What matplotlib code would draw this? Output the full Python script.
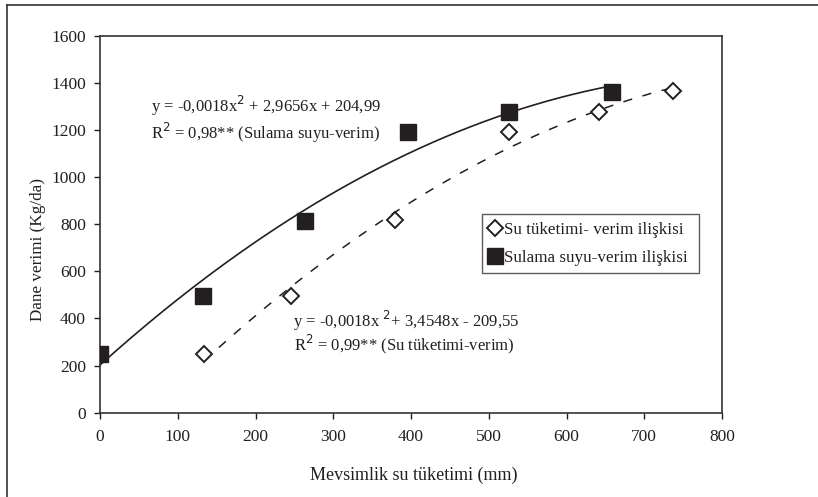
import numpy as np
import matplotlib
matplotlib.use("Agg")
import matplotlib.pyplot as plt
from matplotlib.lines import Line2D

plt.rcParams['font.family'] = ['Liberation Serif', 'DejaVu Serif']

# Sulama suyu - verim (filled squares)
sulama_x = [0, 132, 264, 396, 526, 658]
sulama_y = [248, 495, 815, 1190, 1275, 1363]
# Su tuketimi - verim (open diamonds)
tuketim_x = [134, 246, 380, 526, 642, 737]
tuketim_y = [250, 497, 817, 1192, 1275, 1365]

x_ticks = [0, 100, 200, 300, 400, 500, 600, 700, 800]
y_ticks = [0, 200, 400, 600, 800, 1000, 1200, 1400, 1600]

eq_sulama = "y = -0,0018x$^{2}$ + 2,9656x + 204,99"
r2_sulama = "R$^{2}$ = 0,98** (Sulama suyu-verim)"
eq_tuketim = "y = -0,0018x $^{2}$+ 3,4548x - 209,55"
r2_tuketim = "R$^{2}$ = 0,99** (Su tüketimi-verim)"

ink = '#231f20'

fig = plt.figure(figsize=(8.18, 4.97), dpi=100)
ax = fig.add_axes([100/818, 1 - 412.7/497, 622/818, 377/497])

# outer frame (left and top edges)
fig.add_artist(Line2D([7/818, 7/818], [-0.01, 1 - 5/497], color='#333333', lw=1.2, transform=fig.transFigure))
fig.add_artist(Line2D([7/818, 1.01], [1 - 5/497, 1 - 5/497], color='#333333', lw=1.2, transform=fig.transFigure))

# 2nd order trendlines fitted from the points
c1 = np.polyfit(sulama_x, sulama_y, 2)
xs1 = np.linspace(min(sulama_x), max(sulama_x), 200)
ax.plot(xs1, np.polyval(c1, xs1), color=ink, lw=1.2, zorder=2)

c2 = np.polyfit(tuketim_x, tuketim_y, 2)
xs2 = np.linspace(min(tuketim_x), max(tuketim_x), 200)
ax.plot(xs2, np.polyval(c2, xs2), color=ink, lw=1.1, ls=(0, (6, 7)), zorder=2)

ax.plot(tuketim_x, tuketim_y, 'D', ms=8.5, mfc='white', mec=ink, mew=1.4,
        ls='none', label='Su tüketimi- verim ilişkisi', zorder=3)
ax.plot(sulama_x, sulama_y, 's', ms=11.5, color=ink, ls='none',
        label='Sulama suyu-verim ilişkisi', zorder=3)

ax.set_xlim(0, 800)
ax.set_ylim(0, 1600)
ax.set_xticks(x_ticks)
ax.set_yticks(y_ticks)
ax.tick_params(labelsize=12.5, colors=ink, length=4, width=1)
ax.tick_params(axis='x', pad=8)
ax.tick_params(axis='y', pad=6)
for s in ax.spines.values():
    s.set_color('#333333')
    s.set_linewidth(1.2)

ax.set_xlabel('Mevsimlik su tüketimi (mm)', fontsize=13, color=ink)
ax.set_ylabel('Dane verimi (Kg/da)', fontsize=12.3, color=ink)
ax.xaxis.set_label_coords(0.504, -0.143)
ax.yaxis.set_label_coords(-0.087, 0.433)

ax.text(65, 1300, eq_sulama, fontsize=12, color=ink, va='center')
ax.text(66, 1188, r2_sulama, fontsize=12, color=ink, va='center')
ax.text(248, 390, eq_tuketim, fontsize=12, color=ink, va='center')
ax.text(250, 292, r2_tuketim, fontsize=12, color=ink, va='center')

leg = ax.legend(loc='upper left', bbox_to_anchor=(0.614, 0.377, 0.349, 0.150),
                mode='expand', fontsize=12.3, frameon=True, fancybox=False,
                handlelength=0.6, handletextpad=0.25, borderpad=0.45,
                labelspacing=0.7, borderaxespad=0)
leg.get_frame().set_edgecolor('#333333')
leg.get_frame().set_linewidth(1.0)
for t in leg.get_texts():
    t.set_color(ink)

fig.savefig('out.png', dpi=100)
